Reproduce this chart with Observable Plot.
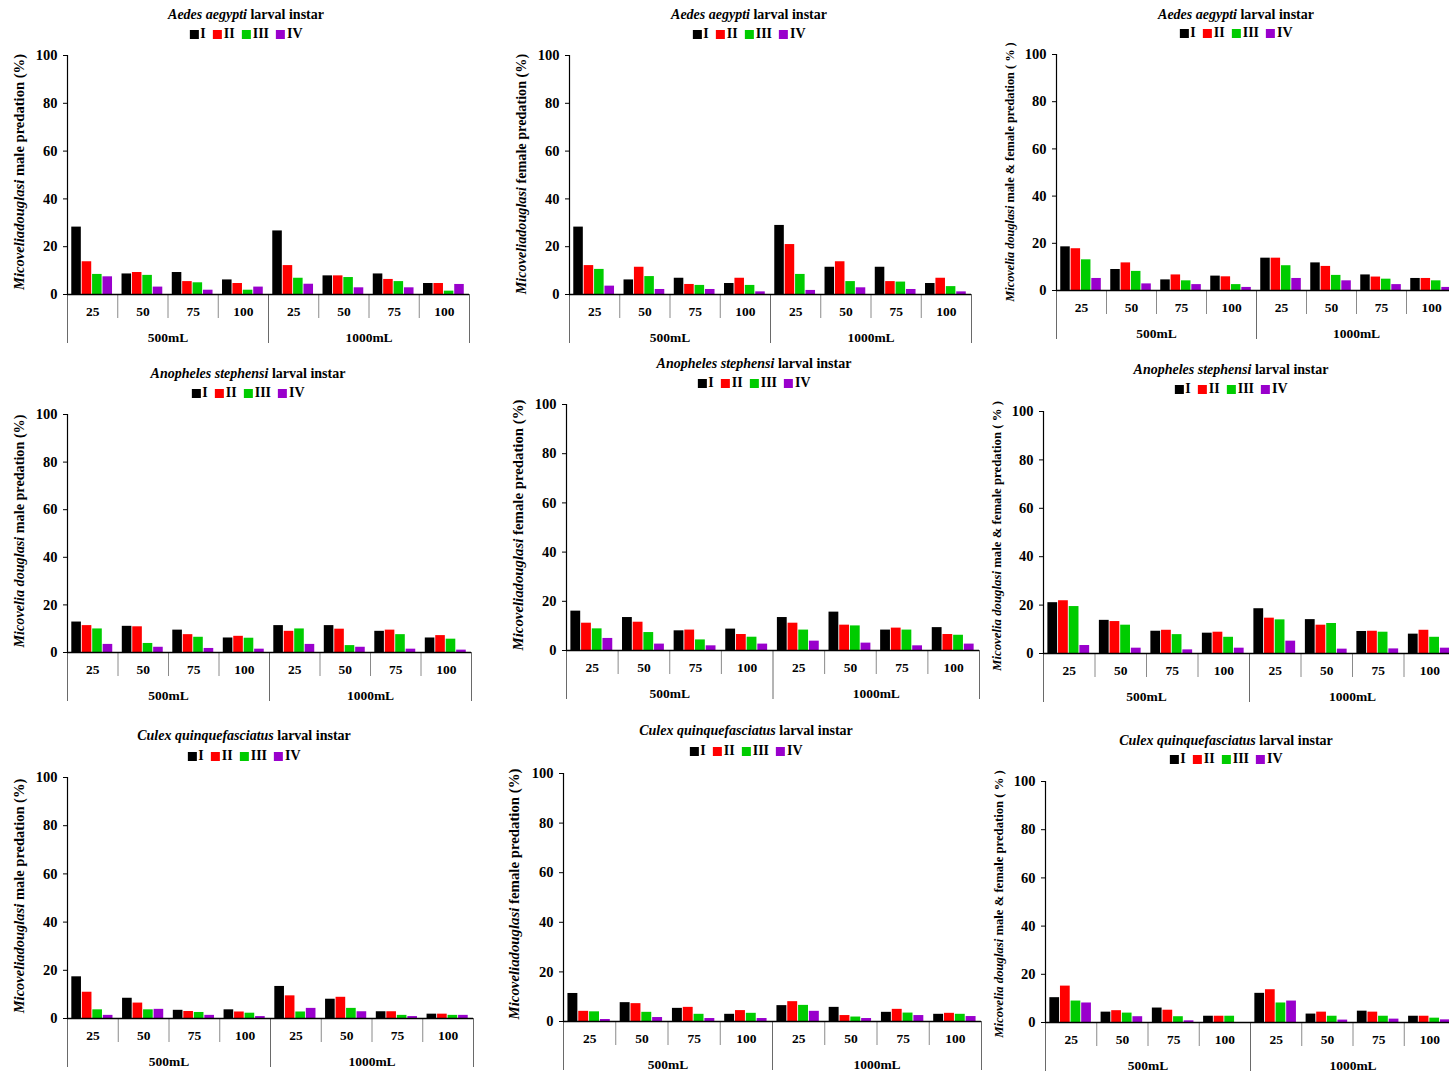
<!DOCTYPE html>
<html><head><meta charset="utf-8">
<script src="https://cdn.jsdelivr.net/npm/d3@7"></script>
<script src="https://cdn.jsdelivr.net/npm/@observablehq/plot@0.6"></script>
<style>
body{margin:0;background:#fff;width:1449px;height:1075px;overflow:hidden;position:relative;font-family:"Liberation Serif","Times New Roman",serif;font-weight:bold;color:#000}
.abs{position:absolute}
.title{font-size:14px;white-space:nowrap;transform:translate(-50%,-50%)}
.legend{font-size:14px;white-space:nowrap;transform:translate(-50%,-50%);display:flex;align-items:center}
.sw{display:inline-block;width:9px;height:9px;margin-right:2px}
.item{display:flex;align-items:center;margin:0 3.5px;line-height:14px}
.ylab{white-space:nowrap;transform:translate(-50%,-50%) rotate(-90deg)}
svg{position:absolute;overflow:visible}
</style></head><body><script>
// ---- data ----
const instars = ["I", "II", "III", "IV"];
const instarColors = ["#000000", "#ff0000", "#00cc00", "#9900cc"];
const volumes = ["500mL", "1000mL"];
const densities = ["25", "50", "75", "100"];
const yTicks = [0, 20, 40, 60, 80, 100];
// each row: one volume × density category (500mL 25,50,75,100 then 1000mL 25,50,75,100); columns: instar I..IV
const aedesMale = [[28.2,13.7,8.4,7.4],[8.6,9.2,8.0,3.1],[9.2,5.4,4.9,1.8],[6.1,4.6,1.8,3.1],[26.6,12.1,6.8,4.3],[7.8,7.8,7.1,2.8],[8.6,6.3,5.4,2.8],[4.6,4.6,1.4,4.2]];
const aedesFemale = [[28.2,12.1,10.5,3.5],[6.1,11.4,7.5,2.1],[6.8,4.2,3.8,2.1],[4.6,6.8,3.8,1.1],[28.9,20.9,8.4,1.7],[11.4,13.7,5.4,2.8],[11.4,5.4,5.2,2.1],[4.6,6.8,3.3,1.1]];
const aedesBoth = [[18.5,17.7,13.0,5.1],[8.9,11.7,8.1,2.8],[4.5,6.6,4.1,2.5],[6.1,5.8,2.5,1.3],[13.7,13.7,10.5,5.1],[11.7,10.2,6.4,4.1],[6.6,5.7,4.8,2.5],[5.1,5.1,4.1,1.3]];
const anophelesMale = [[12.8,11.3,9.9,3.4],[11.0,10.8,3.8,2.2],[9.4,7.5,6.4,1.7],[6.1,6.8,6.0,1.4],[11.3,8.9,9.9,3.4],[11.3,9.8,2.9,2.2],[8.9,9.4,7.5,1.4],[6.1,7.1,5.6,1.0]];
const anophelesFemale = [[16.0,11.1,8.8,4.9],[13.4,11.5,7.3,2.6],[8.0,8.3,4.3,1.9],[8.7,6.5,5.4,2.6],[13.4,11.1,8.3,3.8],[15.6,10.3,10.0,3.0],[8.3,9.1,8.3,1.9],[9.3,6.5,6.2,2.6]];
const anophelesBoth = [[21.0,21.8,19.4,3.3],[13.7,13.2,11.7,2.2],[9.2,9.6,7.8,1.5],[8.4,8.8,6.7,2.2],[18.5,14.6,13.9,5.1],[14.0,11.7,12.4,1.8],[9.1,9.2,8.8,1.9],[8.0,9.6,6.7,2.2]];
const culexMale = [[17.3,10.9,3.6,1.3],[8.4,6.4,3.6,3.8],[3.4,2.9,2.5,1.3],[3.6,2.7,2.2,0.8],[13.3,9.4,2.7,4.2],[8.0,8.8,4.2,2.8],[2.8,2.8,1.3,0.8],[1.8,1.8,1.3,1.3]];
const culexFemale = [[11.3,4.1,3.9,0.8],[7.6,7.2,3.7,1.6],[5.3,5.7,2.9,1.2],[2.9,4.4,3.3,1.2],[6.4,8.0,6.5,4.1],[5.7,2.4,1.8,1.2],[3.7,4.9,3.4,2.4],[2.9,3.3,2.9,2.0]];
const culexBoth = [[10.3,15.1,8.9,8.1],[4.3,4.9,3.9,2.4],[6.0,5.1,2.4,0.7],[2.6,2.6,2.6,0],[12.1,13.6,8.1,8.9],[3.5,4.3,2.6,1.0],[4.7,4.3,2.6,1.4],[2.6,2.6,1.8,1.1]];
const speciesNames = ["Aedes aegypti", "Anopheles stephensi", "Culex quinquefasciatus"];
const yLabelItalic = ["Micoveliadouglasi","Micoveliadouglasi","Micovelia douglasi","Micovelia douglasi","Micoveliadouglasi","Micovelia douglasi","Micoveliadouglasi","Micoveliadouglasi","Micovelia douglasi"];
const yLabelRest = [" male predation (%)"," female predation (%)"," male & female predation ( % )"," male predation (%)"," female predation (%)"," male & female predation ( % )"," male predation (%)"," female predation (%)"," male & female predation ( % )"];
const panelValues = [aedesMale, aedesFemale, aedesBoth, anophelesMale, anophelesFemale, anophelesBoth, culexMale, culexFemale, culexBoth];

// ---- layout (pixels) ----
const layout = [
  {ax:67,  right:469,  y100:55,  y0:294,  tx:246,  ty:15,  ly:34,  yx:19,   yy:172, ys:14.6},
  {ax:569, right:971,  y100:55,  y0:294,  tx:749,  ty:15,  ly:34,  yx:521,  yy:174, ys:14.2},
  {ax:1056,right:1456, y100:54,  y0:290,  tx:1236, ty:15,  ly:33,  yx:1010, yy:172, ys:12.3},
  {ax:67,  right:471,  y100:414, y0:652,  tx:248,  ty:374, ly:393, yx:19,   yy:531, ys:14.2},
  {ax:566, right:979,  y100:404, y0:650,  tx:754,  ty:364, ly:383, yx:518,  yy:525, ys:14.8},
  {ax:1043,right:1455, y100:411, y0:653,  tx:1231, ty:370, ly:389, yx:997,  yy:536, ys:12.8},
  {ax:67,  right:473,  y100:777, y0:1018, tx:244,  ty:736, ly:756, yx:19,   yy:896, ys:14.5},
  {ax:563, right:981,  y100:773, y0:1021, tx:746,  ty:731, ly:751, yx:514,  yy:894, ys:14.8},
  {ax:1045,right:1455, y100:781, y0:1022, tx:1226, ty:741, ly:759, yx:999,  yy:904, ys:12.7}
];
const ML = 45, MR = 3, MT = 10, MB = 56;
const PAD = 0.085, STEP = 0.207, BW = 0.19;

function addDiv(cls, x, y, html, extra) {
  const d = document.createElement("div");
  d.className = "abs " + cls;
  d.style.left = x + "px"; d.style.top = y + "px";
  d.innerHTML = html;
  if (extra) Object.assign(d.style, extra);
  document.body.appendChild(d);
  return d;
}

panelValues.forEach((values, k) => {
  const L = layout[k];
  const rows = [];
  values.forEach((vals, ci) => vals.forEach((v, j) => rows.push({
    ci, j, volume: volumes[Math.floor(ci / 4)], density: densities[ci % 4], instar: instars[j], value: v
  })));
  const cats = d3.range(8).map(ci => ({ci, label: densities[ci % 4]}));
  const groupBounds = [0, 4, 8];
  const catBounds = d3.range(9).filter(b => !groupBounds.includes(b));
  const groups = volumes.map((v, i) => ({mid: i * 4 + 2, label: v}));
  const width = L.right - L.ax + ML + MR;
  const height = L.y0 - L.y100 + MT + MB;
  const svg = Plot.plot({
    width, height,
    marginLeft: ML, marginRight: MR, marginTop: MT, marginBottom: MB,
    x: {domain: [0, 8], axis: null},
    y: {domain: [0, 100], axis: null},
    color: {domain: instars, range: instarColors},
    style: {fontFamily: "'Liberation Serif', 'Times New Roman', serif", fontWeight: "bold", fontSize: "13px", color: "#000", background: "transparent", overflow: "visible"},
    marks: [
      Plot.rectY(rows, {
        x1: d => d.ci + PAD + d.j * STEP,
        x2: d => d.ci + PAD + d.j * STEP + BW,
        y: "value", fill: "instar"
      }),
      Plot.axisY({ticks: yTicks, tickSize: 4, tickPadding: 6, label: null, fontSize: 14.5, stroke: "#000"}),
      Plot.ruleX([0], {y1: 0, y2: 100, stroke: "#000", strokeWidth: 1.2}),
      Plot.ruleX(catBounds, {x: d => d, y1: 0, y2: 0, insetBottom: -24, stroke: "#8a8a8a"}),
      Plot.ruleX(groupBounds, {x: d => d, y1: 0, y2: 0, insetBottom: -49, stroke: "#6a6a6a"}),
      Plot.ruleY([0], {stroke: "#000", strokeWidth: 1.4}),
      Plot.text(cats, {x: d => d.ci + 0.5, y: 0, dy: 17, text: "label", fontSize: 13.5}),
      Plot.text(groups, {x: "mid", y: 0, dy: 43, text: "label", fontSize: 13.5})
    ]
  });
  svg.style.left = (L.ax - ML) + "px";
  svg.style.top = (L.y100 - MT) + "px";
  document.body.appendChild(svg);

  const sp = speciesNames[Math.floor(k / 3)];
  addDiv("title", L.tx, L.ty, `<i>${sp}</i> larval instar`);
  addDiv("legend", L.tx, L.ly, instars.map((s, i) =>
    `<span class="item"><span class="sw" style="background:${instarColors[i]}"></span>${s}</span>`).join(""));
  addDiv("ylab", L.yx, L.yy, `<i>${yLabelItalic[k]}</i>${yLabelRest[k]}`, {fontSize: L.ys + "px"});
});
</script></body></html>
